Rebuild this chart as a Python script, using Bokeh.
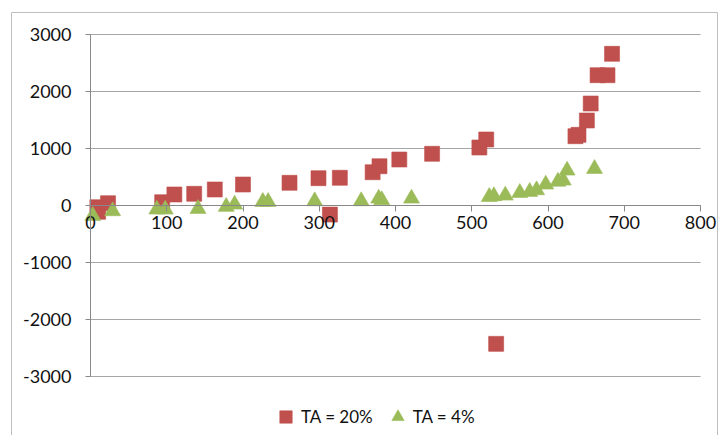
from bokeh.plotting import figure
from bokeh.models import Range1d, FixedTicker, Legend, LegendItem, LinearAxis
from bokeh.embed import file_html
from bokeh.resources import INLINE

# ---- data ----
ta20_x = [9, 10, 23, 94, 110, 136, 163, 200, 261, 299, 314, 327, 370, 379, 405,
          448, 510, 519, 532, 636, 640, 651, 656, 665, 678, 684]
ta20_y = [-30, -110, 40, 58, 193, 205, 281, 368, 398, 479, -160, 486, 584, 689, 807,
          907, 1017, 1158, -2427, 1216, 1240, 1491, 1789, 2286, 2286, 2661]

ta4_x = [3, 29, 87, 98, 141, 178, 189, 226, 233, 294, 355, 378, 382, 421, 523,
         529, 544, 563, 576, 585, 597, 613, 620, 625, 661]
ta4_y = [-180, -98, -69, -69, -58, -22, 18, 65, 65, 77, 77, 123, 95, 123, 153,
         165, 176, 223, 241, 270, 369, 420, 440, 614, 644]

series_labels = ["TA = 20%", "TA = 4%"]

x_ticks = [0, 100, 200, 300, 400, 500, 600, 700, 800]
x_tick_labels = ["0", "100", "200", "300", "400", "500", "600", "700", "800"]
y_ticks = [-3000, -2000, -1000, 0, 1000, 2000, 3000]
y_tick_labels = ["-3000", "-2000", "-1000", "0", "1000", "2000", "3000"]

# ---- layout (pixels on the canvas) ----
W, H = 718, 435
PLOT_L, PLOT_R, PLOT_T, PLOT_B = 90, 700, 34, 376
FONT = "Lato"
FSIZE = "18px"
RED = "#C0504D"
GREEN = "#9BBB59"
AXIS_C = "#888888"
GRID_C = "#A6A6A6"
TEXT_C = "#111111"

sx = (PLOT_R - PLOT_L) / (x_ticks[-1] - x_ticks[0])
sy = (PLOT_B - PLOT_T) / (y_ticks[-1] - y_ticks[0])
x_start = x_ticks[0] - PLOT_L / sx
x_end = x_ticks[-1] + (W - PLOT_R) / sx
y_end = y_ticks[-1] + PLOT_T / sy
y_start = y_ticks[0] - (H - PLOT_B) / sy


def px_x(px):
    return x_start + px / sx


def px_y(py):
    return y_end - py / sy


p = figure(width=W, height=H,
           x_range=Range1d(x_start, x_end),
           y_range=Range1d(y_start, y_end),
           x_axis_location=None, y_axis_location=None,
           output_backend="svg", toolbar_location=None,
           min_border=0)
p.outline_line_color = None
p.background_fill_color = "white"
p.border_fill_color = "white"
p.xgrid.visible = False
p.ygrid.visible = False

# chart-area border (decoration)
p.quad(left=px_x(11), right=px_x(717), top=px_y(12), bottom=px_y(460),
       fill_color=None, line_color="#BFBFBF", line_width=1, level="underlay")

# horizontal gridlines over the plot area
p.segment(x0=[x_ticks[0]] * len(y_ticks), x1=[x_ticks[-1]] * len(y_ticks),
          y0=y_ticks, y1=y_ticks, line_color=GRID_C, line_width=1,
          level="underlay")

xa = LinearAxis(fixed_location=0, bounds=(x_ticks[0], x_ticks[-1]))
xa.ticker = FixedTicker(ticks=x_ticks)
xa.major_label_overrides = {t: s for t, s in zip(x_ticks, x_tick_labels)}
xa.minor_tick_line_color = None
xa.major_tick_in = 0
xa.major_tick_out = 6
xa.major_label_standoff = 4
xa.axis_line_color = AXIS_C
xa.major_tick_line_color = AXIS_C
xa.major_label_text_font = FONT
xa.major_label_text_font_size = FSIZE
xa.major_label_text_color = TEXT_C
p.add_layout(xa, "below")

ya = LinearAxis(fixed_location=0, bounds=(y_ticks[0], y_ticks[-1]))
ya.ticker = FixedTicker(ticks=y_ticks)
ya.major_label_overrides = {t: s for t, s in zip(y_ticks, y_tick_labels)}
ya.minor_tick_line_color = None
ya.major_tick_in = 0
ya.major_tick_out = 5
ya.major_label_standoff = 14
ya.axis_line_color = AXIS_C
ya.major_tick_line_color = AXIS_C
ya.major_label_text_font = FONT
ya.major_label_text_font_size = FSIZE
ya.major_label_text_color = TEXT_C
p.add_layout(ya, "left")

r1 = p.scatter(ta20_x, ta20_y, marker="square", size=15,
               fill_color=RED, line_color=RED, line_alpha=0.6)
r2 = p.scatter(ta4_x, ta4_y, marker="triangle", size=16,
               fill_color=GREEN, line_color=GREEN, line_alpha=0.6)

legend = Legend(items=[LegendItem(label=series_labels[0], renderers=[r1]),
                       LegendItem(label=series_labels[1], renderers=[r2])],
                orientation="horizontal", location=(270, 3),
                border_line_color=None, background_fill_alpha=0,
                label_text_font=FONT, label_text_font_size="17px",
                label_text_color=TEXT_C,
                glyph_width=31, glyph_height=31, spacing=9,
                label_standoff=0, padding=0, margin=0)
p.add_layout(legend, "center")

open("out.html", "w").write(file_html(p, INLINE))
